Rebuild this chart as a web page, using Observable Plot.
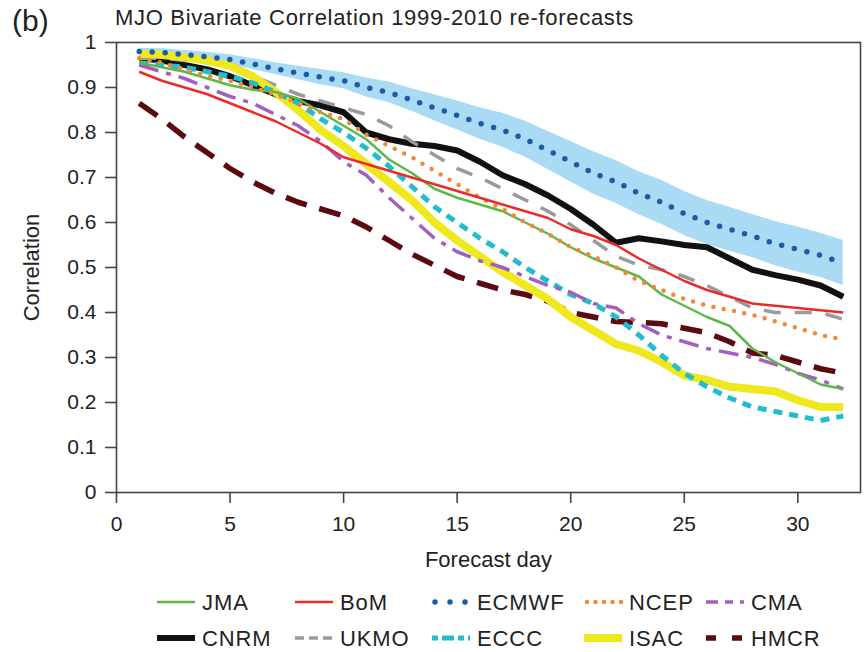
<!DOCTYPE html>
<html>
<head>
<meta charset="utf-8">
<script src="https://cdn.jsdelivr.net/npm/d3@7"></script>
<script src="https://cdn.jsdelivr.net/npm/@observablehq/plot@0.6"></script>
<style>
  body { margin: 0; background: #fff; font-family: "Liberation Sans", Arial, sans-serif; }
  #wrap { position: relative; width: 865px; height: 652px; overflow: hidden; }
  #chart { position: absolute; left: 0; top: 0; }
  #panel { position: absolute; left: 12px; top: 4px; font-size: 30px; color: #222; }
  #title { position: absolute; left: 115px; top: 5px; font-size: 22px; letter-spacing: 0.7px; color: #222; white-space: nowrap; }
  #legend { position: absolute; left: 0; top: 580px; }
</style>
</head>
<body>
<div id="wrap">
  <div id="chart"></div>
  <div id="panel">(b)</div>
  <div id="title">MJO Bivariate Correlation 1999-2010 re-forecasts</div>
  <svg id="legend" width="865" height="72"></svg>
</div>
<script>
// ---- data ----
const days = [1,2,3,4,5,6,7,8,9,10,11,12,13,14,15,16,17,18,19,20,21,22,23,24,25,26,27,28,29,30,31,32];

const JMA   = [0.955,0.945,0.935,0.92,0.905,0.895,0.89,0.875,0.845,0.815,0.785,0.74,0.71,0.675,0.655,0.64,0.625,0.60,0.575,0.545,0.52,0.50,0.48,0.44,0.415,0.39,0.37,0.32,0.29,0.265,0.24,0.23];
const BoM   = [0.935,0.915,0.90,0.885,0.865,0.845,0.825,0.80,0.775,0.745,0.73,0.715,0.70,0.685,0.67,0.655,0.64,0.625,0.61,0.585,0.57,0.55,0.52,0.495,0.47,0.45,0.435,0.42,0.415,0.41,0.405,0.40];
const ECMWF = [0.98,0.978,0.973,0.968,0.962,0.952,0.942,0.932,0.923,0.915,0.90,0.889,0.872,0.855,0.838,0.82,0.805,0.785,0.76,0.735,0.71,0.69,0.665,0.645,0.62,0.60,0.585,0.57,0.553,0.54,0.527,0.51];
const ECMWF_lo = [0.973,0.970,0.964,0.958,0.951,0.940,0.929,0.917,0.906,0.897,0.879,0.866,0.847,0.826,0.806,0.785,0.767,0.745,0.718,0.69,0.663,0.642,0.617,0.596,0.571,0.551,0.536,0.522,0.504,0.49,0.478,0.46];
const ECMWF_hi = [0.987,0.986,0.982,0.978,0.973,0.964,0.955,0.947,0.940,0.933,0.921,0.912,0.897,0.884,0.870,0.855,0.843,0.825,0.802,0.78,0.757,0.738,0.713,0.694,0.669,0.649,0.634,0.618,0.602,0.59,0.576,0.56];
const NCEP  = [0.965,0.955,0.94,0.925,0.915,0.90,0.885,0.865,0.845,0.83,0.795,0.77,0.745,0.715,0.685,0.655,0.63,0.60,0.575,0.545,0.525,0.50,0.47,0.45,0.43,0.415,0.405,0.395,0.38,0.365,0.35,0.34];
const CMA   = [0.95,0.935,0.92,0.90,0.88,0.865,0.84,0.815,0.78,0.735,0.705,0.655,0.61,0.565,0.535,0.515,0.50,0.48,0.46,0.445,0.42,0.41,0.375,0.35,0.335,0.32,0.31,0.30,0.285,0.265,0.25,0.23];
const CNRM  = [0.965,0.96,0.95,0.94,0.925,0.905,0.885,0.87,0.86,0.845,0.80,0.785,0.775,0.77,0.76,0.735,0.705,0.685,0.66,0.63,0.595,0.555,0.565,0.558,0.55,0.545,0.52,0.495,0.483,0.473,0.46,0.435];
const UKMO  = [0.965,0.965,0.96,0.955,0.945,0.925,0.905,0.885,0.87,0.855,0.84,0.815,0.78,0.75,0.72,0.70,0.675,0.65,0.625,0.595,0.56,0.525,0.505,0.495,0.48,0.46,0.435,0.41,0.40,0.40,0.40,0.385];
const ECCC  = [0.955,0.95,0.945,0.935,0.925,0.91,0.89,0.865,0.83,0.80,0.765,0.725,0.68,0.635,0.60,0.565,0.535,0.50,0.47,0.44,0.42,0.39,0.35,0.305,0.265,0.235,0.21,0.19,0.18,0.17,0.16,0.17];
const ISAC  = [0.975,0.972,0.967,0.96,0.948,0.925,0.89,0.85,0.805,0.77,0.73,0.69,0.65,0.60,0.56,0.525,0.49,0.46,0.43,0.39,0.36,0.33,0.315,0.29,0.26,0.25,0.235,0.23,0.225,0.205,0.19,0.19];
const HMCR  = [0.865,0.83,0.79,0.755,0.72,0.69,0.665,0.645,0.63,0.615,0.59,0.56,0.53,0.505,0.48,0.465,0.45,0.44,0.425,0.40,0.39,0.38,0.378,0.375,0.365,0.355,0.335,0.31,0.305,0.29,0.275,0.265];

const xTicks = [0, 5, 10, 15, 20, 25, 30];
const yTicks = [0, 0.1, 0.2, 0.3, 0.4, 0.5, 0.6, 0.7, 0.8, 0.9, 1];
const yTickLabels = ["0","0.1","0.2","0.3","0.4","0.5","0.6","0.7","0.8","0.9","1"];
const legendRow1 = ["JMA", "BoM", "ECMWF", "NCEP", "CMA"];
const legendRow2 = ["CNRM", "UKMO", "ECCC", "ISAC", "HMCR"];

// ---- styles ----
const styles = {
  JMA:   {values: JMA,   stroke: "#5cb948", width: 2.5, dash: null,       legendDash: null,        cap: "butt"},
  BoM:   {values: BoM,   stroke: "#ec2a2a", width: 2.5, dash: null,       legendDash: null,        cap: "butt"},
  ECMWF: {values: ECMWF, stroke: "#1d5aa8", width: 5.5, dash: "0 13",     legendDash: "0 15",      cap: "round"},
  NCEP:  {values: NCEP,  stroke: "#f08838", width: 4.5, dash: "0 10.5",   legendDash: "0 8.5",     cap: "round"},
  CMA:   {values: CMA,   stroke: "#a35fbf", width: 3.5, dash: "20 8 5 8", legendDash: "12 7 8 7",  cap: "butt"},
  CNRM:  {values: CNRM,  stroke: "#111111", width: 6,   dash: null,       legendDash: null,        cap: "butt"},
  UKMO:  {values: UKMO,  stroke: "#9a9a9a", width: 3.5, dash: "17 14",    legendDash: "9 5",       cap: "butt"},
  ECCC:  {values: ECCC,  stroke: "#22bccf", width: 5,   dash: "9 7",      legendDash: "6 4 12 4",  cap: "butt"},
  ISAC:  {values: ISAC,  stroke: "#eee81c", width: 8,   dash: null,       legendDash: null,        cap: "butt"},
  HMCR:  {values: HMCR,  stroke: "#5b0a10", width: 5.5, dash: "22 13",    legendDash: "10 16",     cap: "butt"}
};
const drawOrder = ["HMCR", "CNRM", "UKMO", "ISAC", "ECCC", "CMA", "JMA", "NCEP", "BoM", "ECMWF"];

const rows = name => days.map((d, i) => ({day: d, value: styles[name].values[i], model: name}));
const band = days.map((d, i) => ({day: d, lo: ECMWF_lo[i], hi: ECMWF_hi[i]}));

const chart = Plot.plot({
  width: 865,
  height: 580,
  marginLeft: 116,
  marginRight: 5,
  marginTop: 42,
  marginBottom: 88,
  x: {domain: [0, 32.76]},
  y: {domain: [0, 1]},
  style: {fontFamily: "'Liberation Sans', Arial, sans-serif", fontSize: "21px", color: "#222", background: "transparent", overflow: "visible"},
  marks: [
    Plot.areaY(band, {x: "day", y1: "lo", y2: "hi", fill: "#a9dbf4", curve: "linear"}),
    ...drawOrder.map(name => Plot.line(rows(name), {
      x: "day", y: "value",
      stroke: styles[name].stroke,
      strokeWidth: styles[name].width,
      strokeDasharray: styles[name].dash,
      strokeLinecap: styles[name].cap,
      strokeLinejoin: "round"
    })),
    Plot.frame({stroke: "#444", strokeWidth: 1.6}),
    Plot.axisX({ticks: xTicks, tickSize: 11, tickPadding: 13, label: null, stroke: "#444", strokeWidth: 1.6, fill: "#222"}),
    Plot.axisY({ticks: yTicks, tickSize: 11, tickPadding: 9, label: null, stroke: "#444", strokeWidth: 1.6, fill: "#222",
                tickFormat: d => yTickLabels[yTicks.indexOf(d)]}),
    Plot.text(["Correlation"], {frameAnchor: "left", dx: -85, rotate: -90, text: d => d, fontSize: 22, fill: "#222", textAnchor: "middle", lineAnchor: "middle"}),
    Plot.text(["Forecast day"], {frameAnchor: "bottom", dy: 67, text: d => d, fontSize: 22, fill: "#222", textAnchor: "middle", lineAnchor: "middle", letterSpacing: "1px"})
  ]
});
document.getElementById("chart").appendChild(chart);

// ---- legend ----
const leg = d3.select("#legend");
const colX = [157, 295, 432, 584, 706];
const rowY = [22, 58];
[legendRow1, legendRow2].forEach((row, r) => {
  row.forEach((name, c) => {
    const s = styles[name];
    const g = leg.append("g").attr("transform", `translate(${colX[c]},${rowY[r]})`);
    g.append("line")
      .attr("x1", s.cap === "round" ? 3 : 0).attr("x2", 38).attr("y1", 0).attr("y2", 0)
      .attr("stroke", s.stroke).attr("stroke-width", s.width)
      .attr("stroke-dasharray", s.legendDash)
      .attr("stroke-linecap", s.cap);
    g.append("text").attr("x", 45).attr("y", 0).attr("dy", "0.35em")
      .attr("font-size", 22).attr("letter-spacing", "0.9px").attr("fill", "#222")
      .attr("font-family", "'Liberation Sans', Arial, sans-serif")
      .text(name);
  });
});
</script>
</body>
</html>
